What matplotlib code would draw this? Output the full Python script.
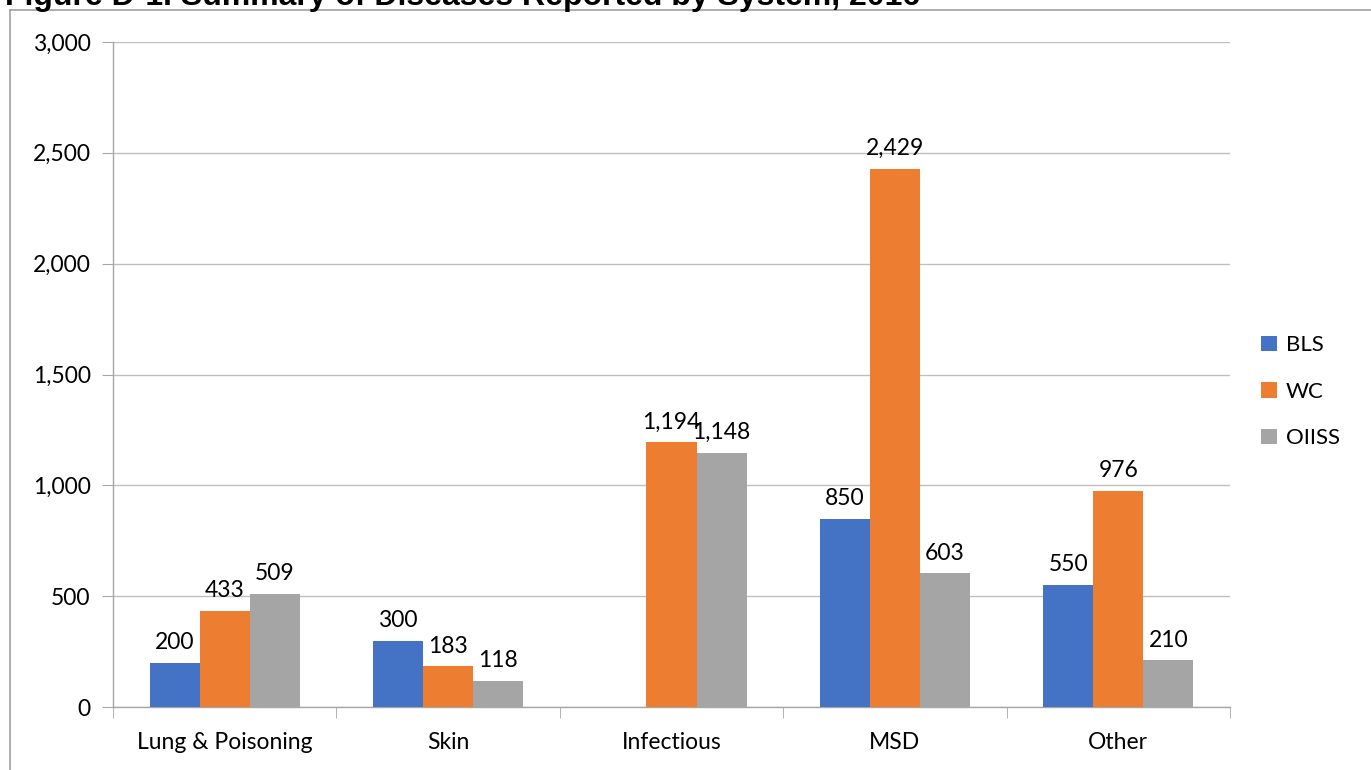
import numpy as np
import matplotlib.pyplot as plt
from matplotlib.lines import Line2D
from matplotlib.ticker import FuncFormatter, MultipleLocator

categories = ["Lung & Poisoning", "Skin", "Infectious", "MSD", "Other"]
bls = [200, 300, 0, 850, 550]
wc = [433, 183, 1194, 2429, 976]
oiiss = [509, 118, 1148, 603, 210]

series = [("BLS", bls, "#4472C4"), ("WC", wc, "#ED7D31"), ("OIISS", oiiss, "#A5A5A5")]

plt.rcParams["font.family"] = ["Lato", "DejaVu Sans"]

fig = plt.figure(figsize=(13.71, 7.70), dpi=100)
ax = fig.add_axes([113 / 1371, 1 - 707 / 770, (1230 - 113) / 1371, (707 - 42) / 770])

x = np.arange(len(categories))
width = 0.224
for i, (name, vals, color) in enumerate(series):
    pos = x + (i - 1) * width
    bars = ax.bar(pos, vals, width, color=color, label=name, zorder=3)
    for b, v in zip(bars, vals):
        if v > 0:
            ax.annotate(f"{v:,}", (b.get_x() + b.get_width() / 2, v),
                        xytext=(0, 7), textcoords="offset points",
                        ha="center", va="bottom", fontsize=16.5, color="#000000")

ax.set_xlim(-0.5, len(categories) - 0.5)
ax.set_ylim(0, 3000)
ax.yaxis.set_major_locator(MultipleLocator(500))
ax.yaxis.set_major_formatter(FuncFormatter(lambda v, p: f"{int(v):,}"))
ax.grid(axis="y", color="#BFBFBF", linewidth=1, zorder=0)

# category labels in the middle, tick marks on the boundaries
ax.set_xticks(x)
ax.set_xticklabels(categories, fontsize=16.5)
ax.tick_params(axis="x", length=0, pad=18)
ax.set_xticks(np.arange(len(categories) + 1) - 0.5, minor=True)
ax.tick_params(axis="x", which="minor", length=8, color="#A6A6A6", direction="out")
ax.tick_params(axis="y", labelsize=16.5, length=8, color="#A6A6A6", pad=8)

for s in ["top", "right"]:
    ax.spines[s].set_visible(False)
for s in ["left", "bottom"]:
    ax.spines[s].set_color("#A6A6A6")
    ax.spines[s].set_linewidth(1)

ax.legend(loc="center left", bbox_to_anchor=(1.01, 0.474), frameon=False,
          fontsize=16, handlelength=0.7, handleheight=0.7, labelspacing=1.2,
          handletextpad=0.4)

# chart frame
fig.add_artist(Line2D([10 / 1371, 10 / 1371], [0, 1 - 10 / 770], color="#A0A0A0", lw=1.2))
fig.add_artist(Line2D([10 / 1371, 1], [1 - 10 / 770, 1 - 10 / 770], color="#A0A0A0", lw=1.2))

fig.text(5 / 1371, 1 - 5.5 / 770, "Figure D-1. Summary of Diseases Reported by System, 2016",
         fontsize=23, fontweight="bold", family="Liberation Sans", va="baseline", ha="left")

fig.savefig("out.png", dpi=100)
